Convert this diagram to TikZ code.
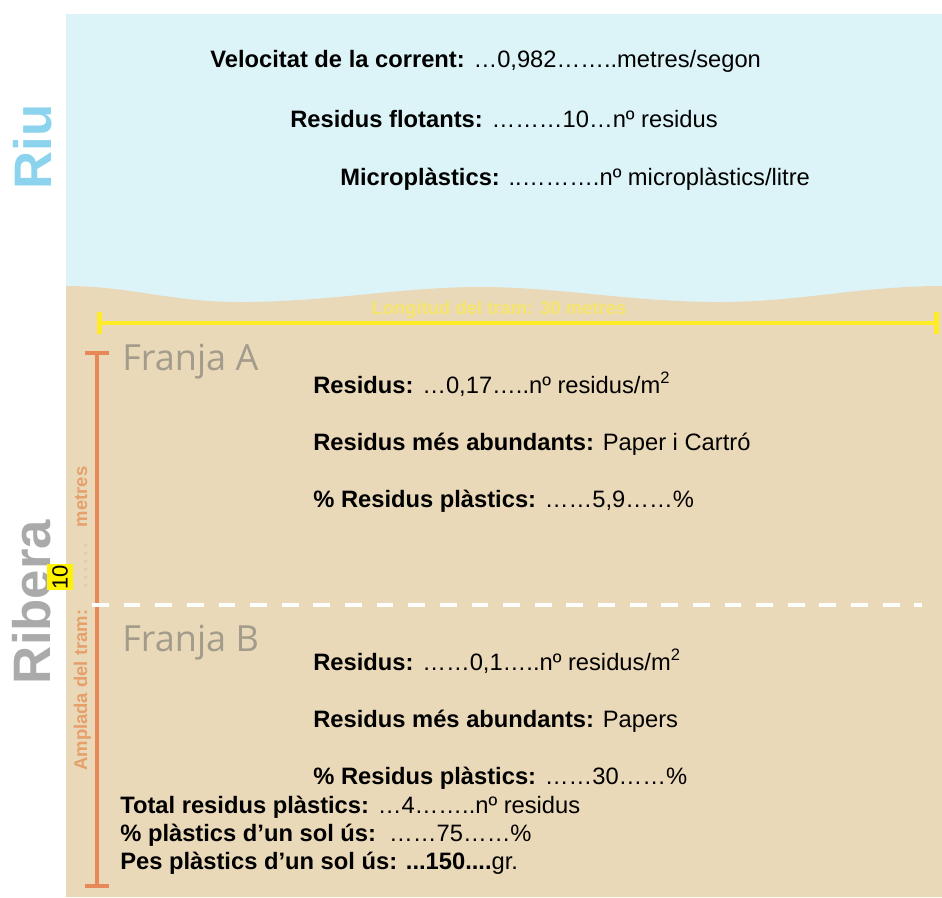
\documentclass[tikz,border=0pt]{standalone}
\usepackage{fontspec}
\setmainfont{Liberation Sans}
\newfontfamily\franjafont{Open Sans}
\usetikzlibrary{arrows.meta,positioning}

\definecolor{riublue}{RGB}{220,244,247}
\definecolor{sand}{RGB}{234,217,184}
\definecolor{riutext}{RGB}{140,211,237}
\definecolor{riberagrey}{RGB}{170,170,170}
\definecolor{tramorange}{RGB}{232,136,88}
\definecolor{amplorange}{RGB}{229,160,108}
\definecolor{tramyellow}{RGB}{255,236,40}
\definecolor{titleyellow}{RGB}{250,232,90}
\definecolor{franjagrey}{RGB}{163,156,140}
\definecolor{dotgrey}{RGB}{215,205,185}

\begin{document}
\begin{tikzpicture}[x=0.02cm,y=-0.02cm,
    dada/.style={anchor=base west,inner sep=0pt,font=\fontsize{13.5}{16}\selectfont},
    side/.style={rotate=90,inner sep=0pt,font=\fontsize{30}{34}\selectfont\bfseries},
    franja/.style={anchor=west,inner sep=0pt,text=franjagrey,font=\franjafont\fontsize{20.5}{24}\selectfont}]

\useasboundingbox (0,0) rectangle (942,897);

% Water of the river
\fill[riublue] (66,14) rectangle (942,305);

% Sand of the bank, wavy top edge
\fill[sand] (66,897) -- (66,286)
    .. controls (130,286) and (170,302) .. (240,302)
    .. controls (330,302) and (400,287) .. (480,287)
    .. controls (560,287) and (630,302) .. (720,302)
    .. controls (800,302) and (860,286) .. (942,286)
    -- (942,897) -- cycle;

% Side titles
\node[side,text=riutext] (riu) at (33,147) {Riu};
\node[side,text=riberagrey] (ribera) at (32,602) {Ribera};

% River data
\node[dada] (velocitat) at (210,67) {\textbf{Velocitat de la corrent:} …0,982……..metres/segon};
\node[dada] (flotants) at (290,127) {\textbf{Residus flotants:} ………10…nº residus};
\node[dada] (micro) at (340,185) {\textbf{Microplàstics:} ..……….nº microplàstics/litre};

% Length of the stretch
\coordinate (llargA) at (97,323);
\coordinate (llargB) at (939,323);
\draw[tramyellow,line width=2.8pt,{Bar[width=12pt]}-{Bar[width=12pt]}] (llargA) -- (llargB);
\node[inner sep=0pt,text=titleyellow,opacity=.8,font=\fontsize{10.5}{12}\selectfont\bfseries] (longitud) at (499,310) {Longitud del tram: 30 metres};

% Width of the stretch
\coordinate (amplaA) at (97,351);
\coordinate (amplaB) at (97,888);
\draw[tramorange,line width=2.3pt,{Bar[width=14pt]}-{Bar[width=14pt]}] (amplaA) -- (amplaB);
\node[rotate=90,anchor=base west,inner sep=0pt,text=amplorange,font=\fontsize{10.5}{12}\selectfont\bfseries] (amplada) at (87,771)
    {Amplada del tram:\hspace{9pt}{\color{dotgrey}\makebox[32pt]{\dotfill}}\hspace{6pt}metres};
\node[rotate=90,fill=yellow,inner xsep=0.5pt,inner ysep=3pt,font=\fontsize{12.5}{14}\selectfont] (deu) at (60,577) {10};

% Line between the two strips
\coordinate (franjaL) at (92,605);
\coordinate (franjaR) at (922,605);
\draw[white,line width=2.3pt,dash pattern=on 9.6pt off 8.4pt] (franjaL) -- (franjaR);

% Strip A
\node[franja] (franjaA) at (122,362) {Franja A};
\node[dada] (residusA) at (313,393) {\textbf{Residus:} …0,17…..nº residus/m\textsuperscript{2}};
\node[dada] (abundA) at (313,450) {\textbf{Residus més abundants:} Paper i Cartró};
\node[dada] (plastA) at (313,507) {\textbf{\% Residus plàstics:} ……5,9……\%};

% Strip B
\node[franja] (franjaB) at (122,643) {Franja B};
\node[dada] (residusB) at (313,670) {\textbf{Residus:} ……0,1…..nº residus/m\textsuperscript{2}};
\node[dada] (abundB) at (313,727) {\textbf{Residus més abundants:} Papers};
\node[dada] (plastB) at (313,784) {\textbf{\% Residus plàstics:} ……30……\%};

% Totals
\node[dada] (total) at (120,813) {\textbf{Total residus plàstics:} …4……..nº residus};
\node[dada] (unsol) at (120,841) {\textbf{\% plàstics d’un sol ús:}\ \ ……75……\%};
\node[dada] (pes) at (120,869) {\textbf{Pes plàstics d’un sol ús: ...150....}gr.};

\end{tikzpicture}
\end{document}
